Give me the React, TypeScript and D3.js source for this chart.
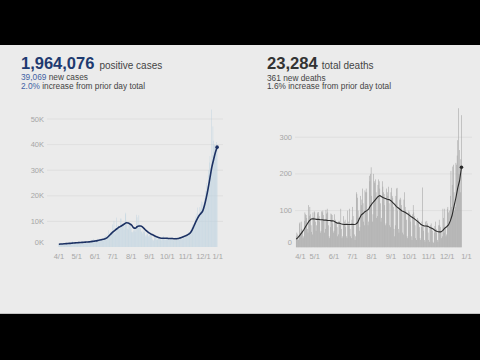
import React from "react";
import * as d3 from "d3";

// daily values start on 4/1/2020
const startDate = new Date(2020, 3, 1);
const AVG_STEP = 3; // 7-day average read every 3 days

const casesApr = [1100, 1200, 1300, 1000, 1400, 900, 1200, 1300, 1100, 1400, 1200, 1100, 800, 1300, 1500, 1400, 1600, 1500, 1300, 1000, 1600, 1700, 1800, 2300, 1800, 1500, 1300, 1400, 1900, 1600];
const casesMay = [1800, 1900, 1500, 1300, 1700, 2000, 1900, 1800, 2300, 1600, 1400, 1500, 1900, 2000, 2100, 1900, 1600, 1700, 2200, 2100, 2300, 2200, 2000, 2100, 1800, 2000, 2400, 2600, 3200, 2300, 2500];
const casesJun = [2300, 2500, 2700, 2900, 3200, 2600, 2100, 2400, 2800, 3100, 3300, 3400, 2900, 2600, 2800, 3500, 4000, 4100, 4300, 4600, 3900, 4200, 5000, 6500, 5100, 5500, 5900, 5300, 6000, 6200];
const casesJul = [8800, 6300, 10200, 5400, 4900, 7200, 11500, 8600, 7800, 7000, 8400, 6800, 8400, 11100, 11100, 8500, 9400, 8300, 8900, 6800, 9200, 12800, 13400, 10200, 9000, 7200, 6800, 9000, 8800, 8600, 8200];
const casesAug = [7400, 5800, 5700, 6000, 6500, 6200, 7900, 7800, 6000, 12600, 11600, 8500, 7500, 12400, 9000, 8200, 7400, 5900, 6100, 5300, 6600, 5900, 6400, 5800, 4500, 4000, 4900, 5500, 5100, 4400, 3800];
const casesSep = [4900, 4800, 5300, 4600, 3900, 3000, 2500, 2600, 3800, 4000, 4400, 3700, 2900, 2800, 3200, 3600, 3800, 3700, 3400, 2900, 2600, 3000, 3800, 4100, 4200, 3500, 2700, 2900, 3300, 3800];
const casesOct = [3600, 3800, 3200, 2900, 2800, 3100, 3300, 3700, 3600, 3400, 2600, 2700, 3200, 3400, 3800, 3900, 3100, 2800, 2900, 3300, 3600, 3900, 4200, 3700, 3000, 3000, 4100, 4300, 4600, 4400, 3900];
const casesNov = [4000, 4100, 4800, 5000, 5300, 5900, 5600, 5200, 5700, 6700, 7500, 7700, 8700, 8400, 7800, 9400, 10800, 11900, 11500, 13100, 15400, 12500, 10300, 11200, 15600, 14600, 16700, 17800, 14000, 17500];
const casesDec = [14500, 17000, 19000, 20500, 22000, 25000, 21000, 24000, 28000, 30000, 33000, 35500, 31000, 30000, 53700, 36000, 47100, 41500, 40000, 39800, 38300, 37000, 41000, 39000];

const casesAvg = [
  1100, 1150, 1200, 1250, 1300, 1350, 1400, 1450, 1550, 1600,
  1650, 1700, 1750, 1800, 1850, 1900, 1950, 2000, 2100, 2200,
  2300, 2400, 2550, 2700, 2850, 3000, 3200, 3600, 4200, 4900,
  5600, 6200, 6800, 7300, 7800, 8200, 8600, 9100, 9500, 9400,
  9000, 8500, 7500, 7300, 7900, 8200, 8200, 7900, 7200, 6500,
  5900, 5400, 5000, 4700, 4300, 4000, 3700, 3500, 3400, 3400,
  3400, 3400, 3300, 3300, 3300, 3200, 3200, 3300, 3500, 3700,
  4000, 4300, 4600, 5000, 5600, 6700, 8200, 9800, 11200, 12400,
  13200, 14200, 16500, 19500, 23000, 27000, 31000, 34000, 36800, 39000,
];

const deathsApr = [30, 40, 35, 25, 20, 65, 68, 40, 70, 50, 45, 25, 30, 72, 95, 90, 88, 80, 50, 40, 115, 86, 110, 90, 60, 42, 35, 95, 82, 98];
const deathsMay = [95, 70, 45, 60, 95, 90, 96, 85, 70, 40, 45, 98, 95, 100, 88, 72, 40, 50, 102, 92, 105, 95, 60, 30, 25, 55, 92, 90, 88, 65, 40];
const deathsJun = [45, 90, 75, 70, 68, 55, 30, 35, 72, 70, 60, 105, 50, 25, 30, 85, 60, 70, 75, 55, 30, 25, 100, 70, 60, 105, 50, 30, 25, 75];
const deathsJul = [110, 85, 65, 35, 20, 30, 150, 145, 135, 100, 80, 45, 55, 140, 115, 130, 160, 120, 70, 60, 155, 150, 160, 150, 100, 60, 70, 195, 180, 200, 218];
const deathsAug = [140, 70, 90, 200, 180, 175, 185, 150, 80, 85, 170, 185, 180, 160, 120, 70, 80, 180, 165, 150, 145, 115, 60, 65, 160, 150, 140, 165, 120, 60, 55];
const deathsSep = [150, 162, 140, 135, 110, 50, 30, 60, 140, 160, 162, 100, 50, 40, 130, 135, 130, 115, 95, 40, 35, 130, 150, 110, 100, 75, 30, 25, 95, 100];
const deathsOct = [95, 90, 70, 30, 20, 90, 115, 95, 85, 60, 25, 20, 70, 80, 75, 70, 55, 25, 20, 55, 70, 163, 60, 45, 20, 15, 70, 60, 72, 65, 40];
const deathsNov = [20, 15, 55, 60, 65, 55, 45, 15, 12, 40, 58, 70, 50, 40, 20, 15, 60, 75, 60, 55, 40, 25, 30, 105, 80, 40, 105, 50, 30, 35];
const deathsDec = [105, 110, 95, 60, 100, 140, 208, 110, 170, 220, 225, 150, 100, 110, 230, 225, 250, 292, 379, 200, 265, 150, 240, 360];

const deathsAvg = [
  22, 27, 33, 40, 47, 56, 64, 72, 77, 78,
  77, 76, 76, 75, 75, 74, 74, 73, 73, 72,
  72, 69, 66, 66, 64, 63, 62, 63, 62, 62,
  63, 62, 63, 67, 78, 88, 92, 97, 100, 104,
  113, 120, 126, 132, 138, 141, 138, 135, 133, 131,
  130, 127, 122, 117, 111, 107, 103, 99, 97, 94,
  91, 87, 83, 80, 76, 72, 68, 63, 60, 58,
  58, 57, 54, 52, 49, 45, 43, 42, 42, 46,
  52, 56, 61, 72, 88, 112, 135, 162, 182, 218,
];

const dailyCases = [casesApr, casesMay, casesJun, casesJul, casesAug, casesSep, casesOct, casesNov, casesDec].flat();
const dailyDeaths = [deathsApr, deathsMay, deathsJun, deathsJul, deathsAug, deathsSep, deathsOct, deathsNov, deathsDec].flat();

const caseTicks = [0, 10000, 20000, 30000, 40000, 50000];
const deathTicks = [0, 100, 200, 300];
const monthTicks = d3.timeMonth.range(new Date(2020, 3, 1), new Date(2021, 0, 2));
const fmtMonth = d3.timeFormat("%-m/%-d");

const FONT = "'Liberation Sans', Arial, Helvetica, sans-serif";
const TICK_FS = 7.5;

function Panel({ daily, avg, xDomain, xRange, yMax, yRange, yTicks, yFmt, labelX, barFill, barFrac, lineColor, lineWidth, curve }) {
  const x = d3.scaleTime().domain(xDomain).range(xRange);
  const y = d3.scaleLinear().domain([0, yMax]).range(yRange);
  const dates = daily.map((_, i) => d3.timeDay.offset(startDate, i));
  const step = x(dates[1]) - x(dates[0]);
  const bw = step * barFrac;

  const pts = avg.map((v, i) => [x(d3.timeDay.offset(startDate, i * AVG_STEP)), y(v)]);
  const path = d3.line().curve(curve)(pts);
  const last = pts[pts.length - 1];

  return (
    <g>
      {yTicks.filter((t) => t > 0).map((t) => (
        <line key={"g" + t} x1={xRange[0]} x2={xRange[1]} y1={y(t)} y2={y(t)} stroke="#dcdcdc" strokeWidth={0.8} />
      ))}
      {yTicks.map((t) => (
        <text key={"y" + t} x={labelX} y={Math.min(y(t), y(0) - 4.5)} textAnchor="end" dominantBaseline="central"
          fontSize={TICK_FS} fill="#a6a6a6">{yFmt(t)}</text>
      ))}
      {daily.map((v, i) => (
        <rect key={i} x={x(dates[i]) - bw / 2} y={y(v)} width={bw} height={y(0) - y(v)} fill={barFill} />
      ))}
      <path d={path} fill="none" stroke={lineColor} strokeWidth={lineWidth} strokeLinejoin="round" />
      <circle cx={last[0]} cy={last[1]} r={1.8} fill={lineColor} />
      {monthTicks.map((d) => {
        const label = fmtMonth(d);
        const hw = label.length * TICK_FS * 0.24;
        const cx = Math.max(xRange[0] + hw, Math.min(xRange[1] - hw, x(d)));
        return (
          <text key={label} x={cx} y={256.5} textAnchor="middle" dominantBaseline="central" fontSize={TICK_FS} fill="#a6a6a6">
            {label}
          </text>
        );
      })}
    </g>
  );
}

export default function App() {
  return (
    <svg width={480} height={360} style={{ position: "absolute", left: 0, top: 0 }} fontFamily={FONT}>
      <rect width={480} height={360} fill="#000" />
      <rect y={45} width={480} height={268.5} fill="#ebebeb" />
      <line x1={0} x2={480} y1={313.5} y2={313.5} stroke="#c4c4c4" />

      <text x={21} y={68.8}>
        <tspan fontSize={16.5} fontWeight="bold" fill="#1e3a70">1,964,076</tspan>
        <tspan dx={5} fontSize={10} fill="#444">positive cases</tspan>
      </text>
      <text x={21} y={80} fontSize={8.3}>
        <tspan fill="#4262a4">39,069</tspan>
        <tspan fill="#444"> new cases</tspan>
      </text>
      <text x={21} y={89} fontSize={8.3}>
        <tspan fill="#4262a4">2.0%</tspan>
        <tspan fill="#444"> increase from prior day total</tspan>
      </text>

      <text x={267} y={68.8}>
        <tspan fontSize={16.6} fontWeight="bold" fill="#333">23,284</tspan>
        <tspan dx={4} fontSize={10} fill="#444">total deaths</tspan>
      </text>
      <text x={267} y={80.6} fontSize={8.3} fill="#444">361 new deaths</text>
      <text x={267} y={89.3} fontSize={8.3} fill="#444">1.6% increase from prior day total</text>

      <Panel
        daily={dailyCases}
        avg={casesAvg}
        xDomain={[new Date(2020, 2, 12), new Date(2021, 0, 3)]}
        xRange={[47, 223]}
        yMax={50000}
        yRange={[247, 119]}
        yTicks={caseTicks}
        yFmt={(t) => `${t / 1000}K`}
        labelX={44}
        barFill="#bed3e0"
        barFrac={0.75}
        lineColor="#1c3163"
        lineWidth={1.6}
        curve={d3.curveMonotoneX}
      />
      <Panel
        daily={dailyDeaths}
        avg={deathsAvg}
        xDomain={[new Date(2020, 2, 30), new Date(2021, 0, 10)]}
        xRange={[295, 472]}
        yMax={300}
        yRange={[247.3, 137.2]}
        yTicks={deathTicks}
        yFmt={(t) => `${t}`}
        labelX={292}
        barFill="#a2a2a2"
        barFrac={0.9}
        lineColor="#2a2a2a"
        lineWidth={1.1}
        curve={d3.curveLinear}
      />
    </svg>
  );
}
